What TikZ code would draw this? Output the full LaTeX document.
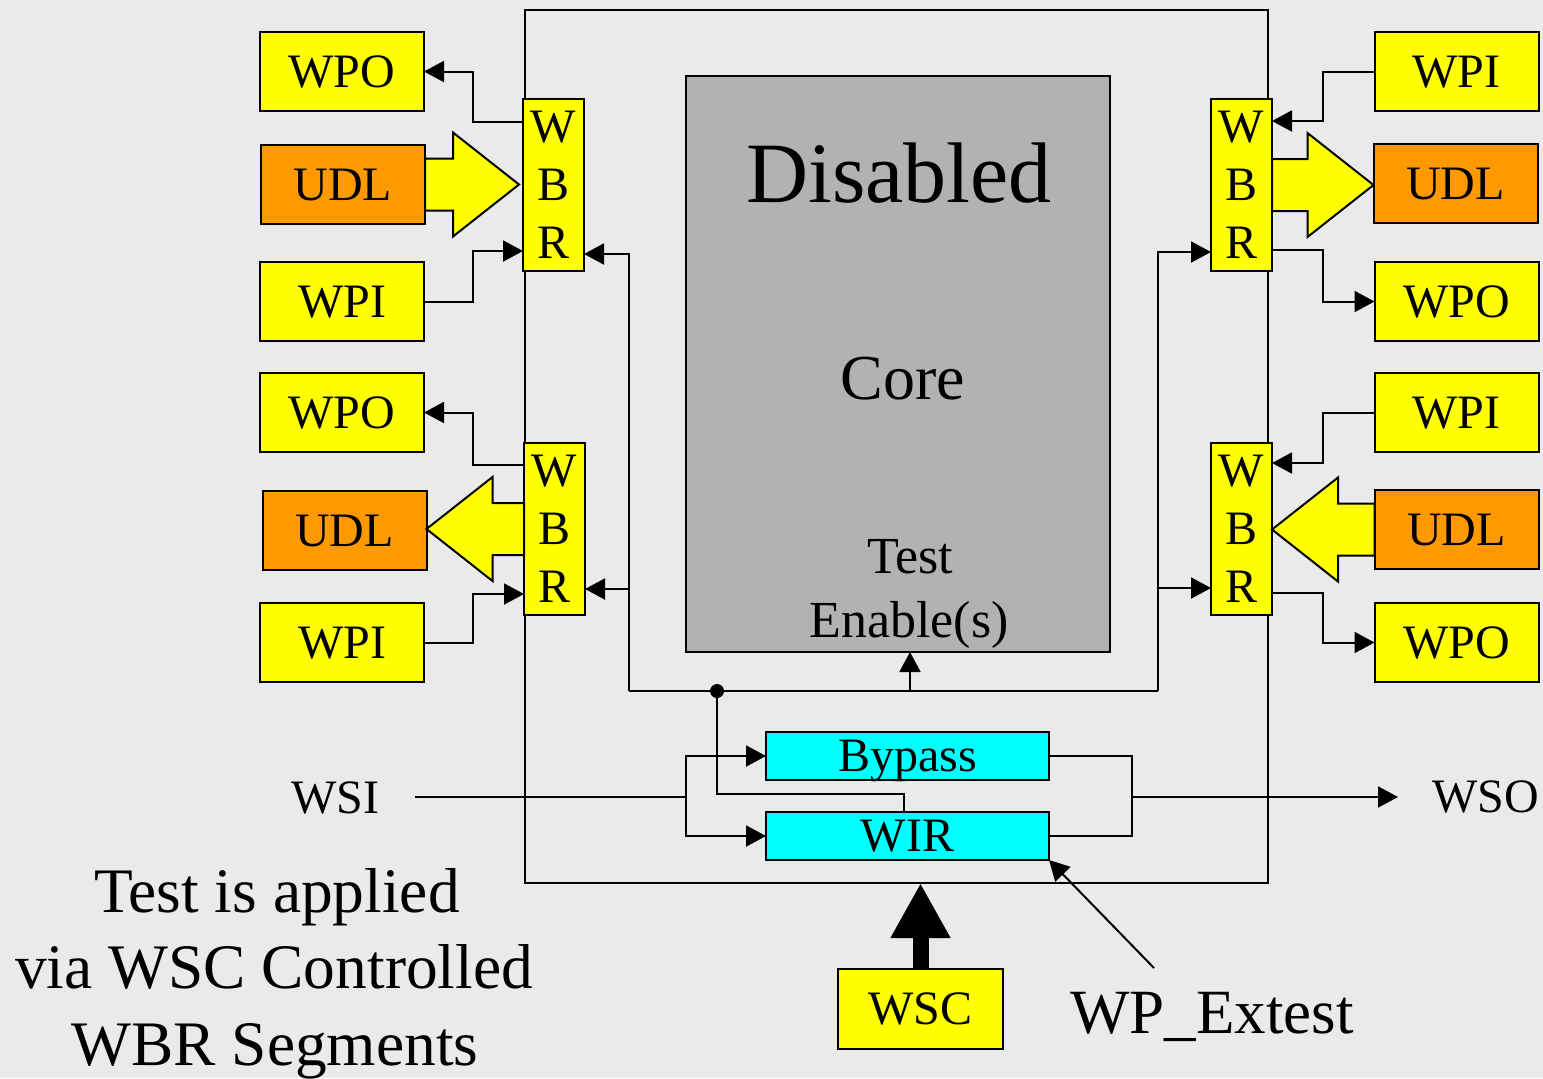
\documentclass[tikz,border=0pt]{standalone}
\usepackage{fontspec}
\setmainfont{Liberation Serif}
\usetikzlibrary{arrows.meta,calc}
\definecolor{bgc}{RGB}{234,234,234}
\definecolor{ylw}{RGB}{255,255,0}
\definecolor{org}{RGB}{255,153,0}
\definecolor{cyn}{RGB}{0,255,255}
\definecolor{coreg}{RGB}{178,178,178}
\newcommand\fatarrow[3]{\filldraw[fat] let \p1=#1, \p2=#2 in
  (\x1,{\y1+13pt}) -- ({\x2-(#3)*33pt},{\y1+13pt}) -- ({\x2-(#3)*33pt},{\y1+26pt}) -- (\x2,\y1)
  -- ({\x2-(#3)*33pt},{\y1-26pt}) -- ({\x2-(#3)*33pt},{\y1-13pt}) -- (\x1,{\y1-13pt}) -- cycle;}
\begin{document}
\begin{tikzpicture}[x=0.5pt,y=-0.5pt,
  every node/.style={inner sep=0pt, outer sep=0pt},
  box/.style={draw=black, line width=1pt, minimum width=82pt, minimum height=39.5pt,
    font=\fontsize{24}{29}\selectfont, text height=15.9pt, text depth=0pt},
  ybox/.style={box, fill=ylw},
  obox/.style={box, fill=org},
  wbr/.style={draw=black, line width=1pt, fill=ylw, minimum width=30.5pt, minimum height=86pt,
    align=center, font=\fontsize{24}{29}\selectfont},
  regbox/.style={draw=black, line width=1pt, fill=cyn, minimum width=141.5pt, minimum height=24pt,
    font=\fontsize{24}{29}\selectfont, text height=15.9pt, text depth=0pt},
  conn/.style={draw=black, line width=1pt},
  arr/.style={-{Triangle[length=10pt,width=10.5pt]}},
  fat/.style={draw=black, line width=1pt, fill=ylw, line join=miter},
  lbl/.style={font=\fontsize{24}{29}\selectfont, text height=15.9pt, text depth=0pt},
  note/.style={font=\fontsize{31.7}{38}\selectfont, anchor=base},
]
\fill[bgc] (0,0) rectangle (1543,1078);
\useasboundingbox (0,0) rectangle (1543,1078);

% wrapper and core
\node[draw=black, line width=1pt, minimum width=371.5pt, minimum height=436.5pt] (wrapper) at (896.5,446.5) {};
\node[draw=black, line width=1pt, fill=coreg, minimum width=212pt, minimum height=288pt] (core) at (898,364) {};

% left terminals
\node[ybox] (lwpo1) at (342,71.5) {WPO};
\node[obox] (ludl1) at (343,184.5) {UDL};
\node[ybox] (lwpi1) at (342,301.5) {WPI};
\node[ybox] (lwpo2) at (342,412.5) {WPO};
\node[obox] (ludl2) at (344.5,530.5) {UDL};
\node[ybox] (lwpi2) at (342,642.5) {WPI};
% right terminals
\node[ybox] (rwpi1) at (1456.5,71.5) {WPI};
\node[obox] (rudl1) at (1455.5,183.5) {UDL};
\node[ybox] (rwpo1) at (1456.5,301.5) {WPO};
\node[ybox] (rwpi2) at (1456.5,412.5) {WPI};
\node[obox] (rudl2) at (1456.5,529.5) {UDL};
\node[ybox] (rwpo2) at (1456.5,642.5) {WPO};

% WBR segments
\node[wbr] (wbrlt) at (553.5,185) {W\\B\\R};
\node[wbr] (wbrlb) at (554.5,529) {W\\B\\R};
\node[wbr] (wbrrt) at (1241.5,185) {W\\B\\R};
\node[wbr] (wbrrb) at (1241.5,529) {W\\B\\R};

% registers
\node[regbox] (bypass) at (907.5,756) {Bypass};
\node[regbox] (wir) at (907.5,836) {WIR};

% control boxes / labels
\node[ybox, minimum width=82.5pt, minimum height=40pt] (wsc) at (920.5,1009) {WSC};
\node[lbl] (wsi) at (335,798) {WSI};
\node[lbl] (wso) at (1486,797) {WSO};
\node[font=\fontsize{31.5}{38}\selectfont, anchor=base] (wpext) at (1212,1033) {WP\_Extest};

% core texts
\node[font=\fontsize{43}{50}\selectfont, anchor=base] (dis) at (899,202) {Disabled};
\node[font=\fontsize{32}{38}\selectfont, anchor=base] (corel) at (903,399) {Core};
\node[font=\fontsize{26}{32}\selectfont, anchor=base] (te1) at (910,573) {Test};
\node[font=\fontsize{26}{32}\selectfont, anchor=base] (te2) at (909,637) {Enable(s)};

% bottom-left note
\node[note] (n1) at (277,912) {Test is applied};
\node[note] (n2) at (274,988) {via WSC Controlled};
\node[note] (n3) at (275,1065) {WBR Segments};

% coordinates
\coordinate (busL) at (629,691);
\coordinate (busR) at (1158,691);
\coordinate (dot) at (717,691);
\coordinate (tein) at (910,691);
\coordinate (wsiout) at (415,797);
\coordinate (split) at (686,797);
\coordinate (join) at (1132,797);
\coordinate (wsoin) at (1398,797);
\coordinate (wpxs) at (1154,968);

% left top WBR connections
\draw[conn,arr] ($(wbrlt.north west)+(0,23)$) -| ($(lwpo1.east)+(49,0)$) -- (lwpo1.east);
\draw[conn,arr] (lwpi1.east) -- ++(49,0) |- ($(wbrlt.south west)+(0,-20)$);
\draw[conn,arr] (busL) |- ($(wbrlt.south east)+(0,-17)$);
% left bottom WBR connections
\draw[conn,arr] ($(wbrlb.north west)+(0,22)$) -| ($(lwpo2.east)+(49,0)$) -- (lwpo2.east);
\draw[conn,arr] (lwpi2.east) -- ++(49,0) |- ($(wbrlb.south west)+(0,-21)$);
\draw[conn,arr] (busL) |- ($(wbrlb.south east)+(0,-26)$);
% right top WBR connections
\draw[conn,arr] (rwpi1.west) -- ++(-52,0) |- ($(wbrrt.north east)+(0,22)$);
\draw[conn,arr] ($(wbrrt.south east)+(0,-21)$) -| ($(rwpo1.west)+(-52,0)$) -- (rwpo1.west);
\draw[conn,arr] (busR) |- ($(wbrrt.south west)+(0,-19)$);
% right bottom WBR connections
\draw[conn,arr] (rwpi2.west) -- ++(-52,0) |- ($(wbrrb.north east)+(0,20)$);
\draw[conn,arr] ($(wbrrb.south east)+(0,-22)$) -| ($(rwpo2.west)+(-52,0)$) -- (rwpo2.west);
\draw[conn,arr] (busR) |- ($(wbrrb.south west)+(0,-27)$);

% test enable bus
\draw[conn] (busL) -- (busR);
\draw[conn,arr] (tein) -- (tein |- core.south);
\fill (dot) circle (3.5pt);
\draw[conn] (dot) |- ($(wir.north)+(-4,-18)$) -- ($(wir.north)+(-4,0)$);

% serial path
\draw[conn] (wsiout) -- (split);
\draw[conn,arr] (split) |- (bypass.west);
\draw[conn,arr] (split) |- (wir.west);
\draw[conn] (bypass.east) -| (join);
\draw[conn] (wir.east) -| (join);
\draw[conn,arr] (join) -- (wsoin);

% WP_Extest and WSC
\draw[conn,arr] (wpxs) -- (wir.south east);
\draw[line width=8pt, -{Triangle[length=27.5pt,width=28pt]}] (wsc.north) -- (wsc.north |- wrapper.south);

% fat data arrows
\fatarrow{(ludl1.east)}{($(wbrlt.west)+(-4,0)$)}{1}
\fatarrow{(wbrlb.west)}{(ludl2.east)}{-1}
\fatarrow{(wbrrt.east)}{(rudl1.west)}{1}
\fatarrow{(rudl2.west)}{(wbrrb.east)}{-1}
\end{tikzpicture}
\end{document}
